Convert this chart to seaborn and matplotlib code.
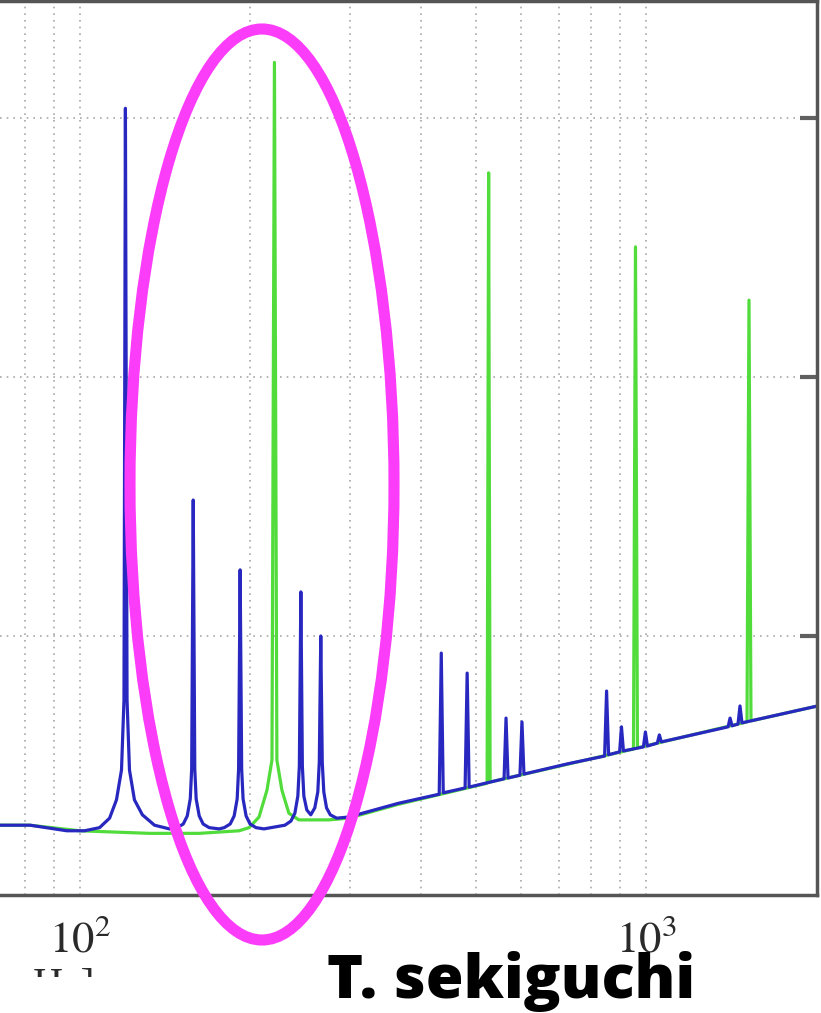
import numpy as np
import pandas as pd
import matplotlib
matplotlib.use('Agg')
import matplotlib.pyplot as plt
import seaborn as sns
from matplotlib.patches import Ellipse, Rectangle
from matplotlib.ticker import NullFormatter

# blue spectrum (frequency in Hz, amplitude)
blue_freq = [72.3, 81.7, 94.9, 102.0, 108.4, 112.9, 116.1, 118.5, 119.7, 120.4, 121.2, 122.4, 124.9,
             129.0, 135.5, 143.9,
             148.7, 152.3, 154.8, 156.7, 157.6, 158.6, 159.6, 160.5, 162.5, 165.1, 169.2, 176.2,
             179.9, 184.3, 187.3, 189.6, 190.7, 191.9, 193.1, 194.2, 196.6, 199.8, 204.7, 211.4,
             230.2, 235.9, 239.7, 242.6, 244.1, 245.6, 247.1, 248.6, 251.6, 255.7,
             259.9, 263.1, 264.7, 266.3, 267.9, 269.6, 272.6, 276.8, 284.1, 298.2, 365.1,
             430.9, 434.5, 438.0, 478.7, 482.7, 486.6, 560.8, 565.3, 569.9, 598.2, 603.1, 608.0,
             726.3, 843.8, 850.6, 857.5, 896.9, 903.6, 910.9, 987.9, 995.9, 1004.1,
             1045.4, 1054.0, 1062.6, 1393.6, 1404.9, 1416.3, 1450.9, 1462.7, 1474.5, 2006.0]
blue_amp = [1.86e-21, 1.86e-21, 1.77e-21, 1.77e-21, 1.82e-21, 1.98e-21, 2.33e-21, 3.04e-21, 5.66e-21,
            1.09e-18, 5.66e-21, 3.04e-21, 2.33e-21,
            2.04e-21, 1.86e-21, 1.80e-21,
            1.82e-21, 1.88e-21, 2.02e-21, 2.35e-21, 3.06e-21, 3.35e-20, 3.06e-21, 2.35e-21, 2.02e-21,
            1.88e-21, 1.82e-21, 1.80e-21,
            1.82e-21, 1.88e-21, 2.02e-21, 2.35e-21, 3.06e-21, 1.80e-20, 3.06e-21, 2.35e-21, 2.02e-21,
            1.88e-21, 1.82e-21, 1.80e-21,
            1.86e-21, 1.93e-21, 2.07e-21, 2.41e-21, 3.15e-21, 1.48e-20, 3.15e-21, 2.41e-21, 2.13e-21,
            2.04e-21,
            2.17e-21, 2.50e-21, 3.26e-21, 1.00e-20, 3.26e-21, 2.50e-21, 2.17e-21, 2.04e-21, 1.98e-21,
            2.00e-21, 2.26e-21,
            2.45e-21, 8.59e-21, 2.48e-21, 2.59e-21, 7.19e-21, 2.61e-21, 2.81e-21, 4.82e-21, 2.83e-21,
            2.90e-21, 4.66e-21, 2.93e-21,
            3.21e-21, 3.44e-21, 6.13e-21, 3.48e-21, 3.57e-21, 4.46e-21, 3.60e-21, 3.73e-21, 4.26e-21,
            3.76e-21, 3.86e-21, 4.15e-21, 3.90e-21, 4.46e-21, 4.82e-21, 4.50e-21, 4.57e-21, 5.37e-21,
            4.62e-21, 5.37e-21]

# green spectrum
green_freq = [72.3, 81.7, 100.0, 132.7, 162.5, 191.1, 199.0, 207.2, 214.0, 218.4, 220.6, 222.8,
              227.4, 233.9, 243.6, 275.0, 298.2, 365.1, 523.5, 526.7, 529.9,
              948.8, 956.6, 964.3, 1504.9, 1517.1, 1529.4, 2006.0]
green_amp = [1.86e-21, 1.86e-21, 1.77e-21, 1.73e-21, 1.73e-21, 1.77e-21, 1.82e-21, 2.00e-21, 2.54e-21,
             3.32e-21, 1.64e-18, 3.32e-21, 2.54e-21, 2.07e-21, 1.95e-21, 1.95e-21, 1.98e-21, 2.24e-21,
             2.70e-21, 6.14e-19, 2.73e-21, 3.66e-21, 3.18e-19, 3.70e-21, 4.66e-21, 1.98e-19, 4.70e-21,
             5.37e-21]

x_major = [100, 1000]
x_major_labels = [r'$10^{2}$', r'$10^{3}$']
x_minor = [80, 90, 200, 300, 400, 500, 600, 700, 800, 900, 2000]
y_major = [1e-20, 1e-19, 1e-18]

sns.set_style('white')
plt.rcParams['mathtext.fontset'] = 'stix'

fig = plt.figure(figsize=(8.21, 10.13), dpi=100)
ax = fig.add_axes([0.0, 1 - 895 / 1013, 817 / 821, 894 / 1013])

blue = pd.DataFrame({'freq': blue_freq, 'amp': blue_amp})
green = pd.DataFrame({'freq': green_freq, 'amp': green_amp})
sns.lineplot(data=green, x='freq', y='amp', estimator=None, sort=False, color='#52dc3c', lw=2.3, ax=ax)
sns.lineplot(data=blue, x='freq', y='amp', estimator=None, sort=False, color='#2828c0', lw=2.3, ax=ax)

ax.set_xscale('log')
ax.set_yscale('log')
ax.set_xlim(72.33, 1974)
ax.set_ylim(1e-21, 2.83e-18)

ax.set_xticks(x_major)
ax.set_xticklabels(x_major_labels)
ax.set_xticks(x_minor, minor=True)
ax.xaxis.set_minor_formatter(NullFormatter())
ax.yaxis.tick_right()
ax.set_yticks(y_major)
ax.yaxis.set_minor_locator(matplotlib.ticker.NullLocator())
ax.tick_params(axis='y', labelright=False, direction='in', length=12, width=3, color='#606060')
ax.tick_params(axis='x', which='major', direction='in', length=12, width=2, color='#505050',
               labelsize=32, labelcolor='#2a2a2a', pad=16)
ax.tick_params(axis='x', which='minor', direction='in', length=8, width=2, color='#606060')
ax.set_xlabel('')
ax.set_ylabel('')

grid_kw = dict(color='#a8a8a8', linestyle=(0, (1, 3)), linewidth=1.2)
ax.grid(True, which='both', axis='x', **grid_kw)
ax.grid(True, which='major', axis='y', **grid_kw)

for side in ['top', 'right', 'bottom']:
    ax.spines[side].set_color('#555555')
    ax.spines[side].set_linewidth(2.5)
ax.spines['left'].set_visible(False)

# magenta highlight
ell = Ellipse((262 / 821, 1 - 484.5 / 1013), 264 / 821, 911 / 1013, transform=fig.transFigure,
              fill=False, edgecolor='#fb3cf8', lw=8, clip_on=False, zorder=10)
fig.add_artist(ell)

fig.text(95 / 821, 1 - 967 / 1013, 'Hz]', ha='right', va='top', fontsize=30,
         family='Liberation Serif', color='#2a2a2a', zorder=4)
fig.add_artist(Rectangle((0, 0), 320 / 821, 1 - 977 / 1013, transform=fig.transFigure,
                         facecolor='white', edgecolor='none', zorder=5))
fig.text(327 / 821, 1 - 998 / 1013, 'T. sekiguchi', ha='left', va='baseline', fontsize=44,
         family='Open Sans', weight='extra bold', color='black', zorder=12)

fig.savefig('out.png', dpi=100)
